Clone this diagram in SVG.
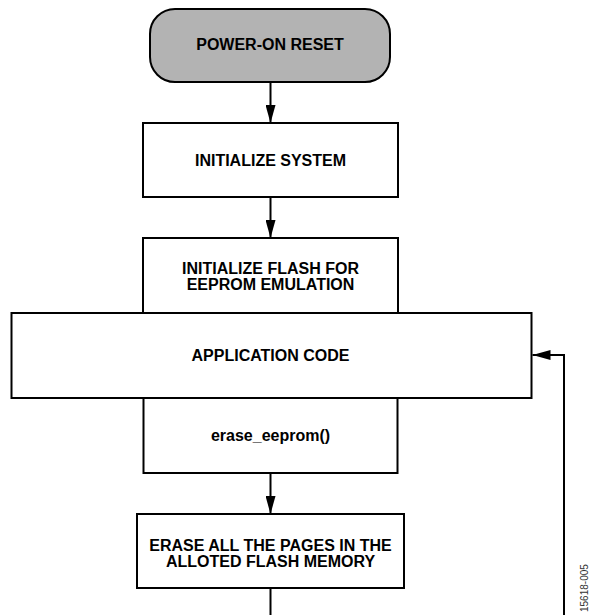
<svg xmlns="http://www.w3.org/2000/svg" width="590" height="615" viewBox="0 0 590 615">
<defs>
<marker id="ah" markerUnits="userSpaceOnUse" markerWidth="20" markerHeight="10" refX="18" refY="5" orient="auto">
<path d="M0,0 L18,5 L0,10 Z" fill="#000"/>
</marker>
<style>
.box{fill:#fff;stroke:#000;stroke-width:2}
.term{fill:#b3b3b3;stroke:#000;stroke-width:2}
.t{font-family:"Liberation Sans",Arial,sans-serif;font-weight:bold;font-size:16px;fill:#000;text-anchor:middle}
.c{fill:none;stroke:#000;stroke-width:2}
.fig{font-family:"Liberation Sans",Arial,sans-serif;font-size:10px;fill:#333}
</style>
</defs>
<rect width="590" height="615" fill="#fff"/>
<g id="connectors">
<line class="c" x1="270.5" y1="82" x2="270.5" y2="123" marker-end="url(#ah)"/>
<line class="c" x1="270.5" y1="197" x2="270.5" y2="238" marker-end="url(#ah)"/>
<line class="c" x1="270.5" y1="473" x2="270.5" y2="514" marker-end="url(#ah)"/>
<line class="c" x1="270.5" y1="588" x2="270.5" y2="616"/>
<polyline class="c" points="564,616 564,355 532.5,355" marker-end="url(#ah)"/>
</g>
<g id="power-on-reset">
<rect class="term" x="150" y="9" width="240" height="73" rx="25" ry="25"/>
<text class="t" x="270" y="50">POWER-ON RESET</text>
</g>
<g id="initialize-system">
<rect class="box" x="143" y="123" width="255" height="74"/>
<text class="t" x="270.5" y="166">INITIALIZE SYSTEM</text>
</g>
<g id="initialize-flash">
<rect class="box" x="143" y="238" width="255" height="75"/>
<text class="t" x="270.5" y="274">INITIALIZE FLASH FOR</text>
<text class="t" x="270.5" y="290">EEPROM EMULATION</text>
</g>
<g id="application-code">
<rect class="box" x="11.5" y="313" width="520" height="85"/>
<text class="t" x="270.5" y="361">APPLICATION CODE</text>
</g>
<g id="erase-eeprom">
<rect class="box" x="143.5" y="398" width="254" height="75"/>
<text class="t" x="270.5" y="441">erase_eeprom()</text>
</g>
<g id="erase-all-pages">
<rect class="box" x="137" y="514" width="267" height="74"/>
<text class="t" x="270.5" y="551">ERASE ALL THE PAGES IN THE</text>
<text class="t" x="270.5" y="566.5">ALLOTED FLASH MEMORY</text>
</g>
<text class="fig" transform="translate(587.5,612) rotate(-90)">15618-005</text>
</svg>
